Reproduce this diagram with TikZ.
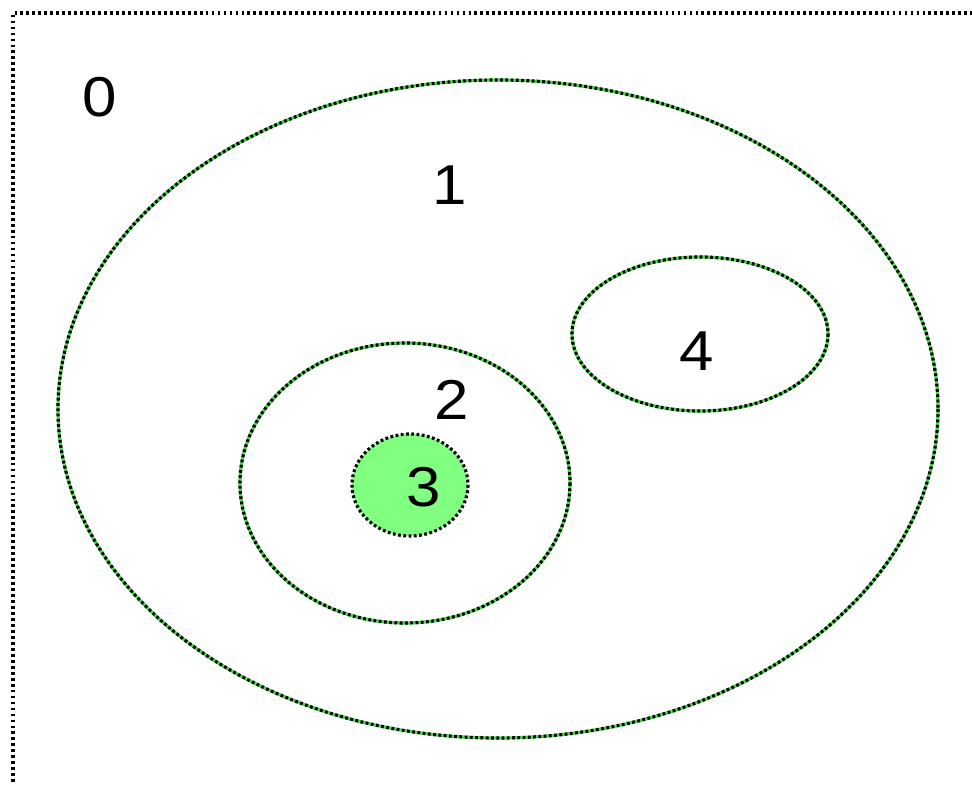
\documentclass[tikz,border=0pt]{standalone}
\usepackage{fontspec}
\setmainfont{Liberation Sans}
\usetikzlibrary{positioning}
\definecolor{setgreen}{RGB}{128,255,128}
\definecolor{rimgreen}{RGB}{70,220,70}
\tikzset{
  rim/.style={draw=rimgreen,line width=1.8pt},
  rimdots/.style={draw=black,line width=1.8pt,dash pattern=on 1.6pt off 1.4pt},
  setlab/.style={font=\fontsize{32}{38}\selectfont,inner sep=0pt,xscale=1.1}
}
\begin{document}
\begin{tikzpicture}[x=0.02cm,y=-0.02cm]
\useasboundingbox (0,0) rectangle (972,784);
\fill[white] (0,0) rectangle (972,784);
% universe
\draw[line width=1.8pt,dash pattern=on 1.6pt off 1.8pt] (13,800)--(13,13)--(990,13);
% sets
\foreach \cx/\cy/\rx/\ry in {498/409/440/329,700/334/128/77,405/483/165/140}{
  \draw[rim] (\cx,\cy) ellipse ({\rx} and {\ry});
  \draw[rimdots] (\cx,\cy) ellipse ({\rx} and {\ry});
}
\fill[setgreen] (410,485) ellipse (58 and 51);
\draw[rimdots] (410,485) ellipse (58 and 51);
% labels
\node[setlab] (s0) at (100,97) {0};
\node[setlab] (s1) at (450,185) {1};
\node[setlab] (s2) at (452,400) {2};
\node[setlab] (s3) at (424,487) {3};
\node[setlab] (s4) at (697,351) {4};
\end{tikzpicture}
\end{document}
